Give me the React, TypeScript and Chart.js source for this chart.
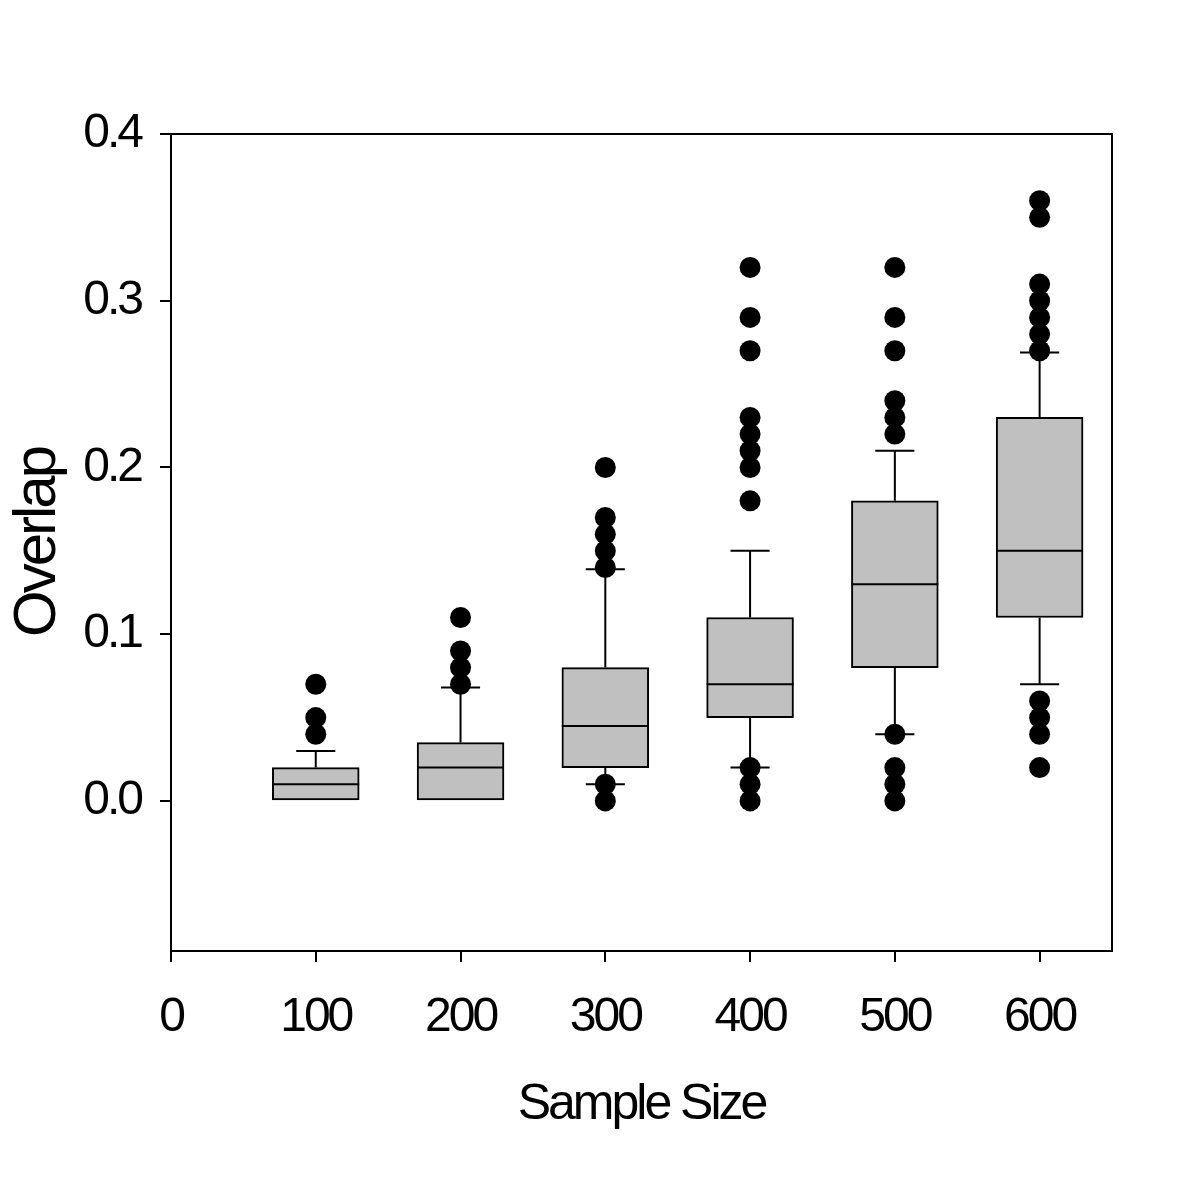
import React, { useEffect, useRef } from 'react';
import { Chart, registerables } from 'chart.js';

Chart.register(...registerables);

// ---- Data ----
const SAMPLE_SIZES = [100, 200, 300, 400, 500, 600];
const Q1 = [0.0, 0.0, 0.02, 0.05, 0.08, 0.11];
const MEDIAN = [0.01, 0.02, 0.045, 0.07, 0.13, 0.15];
const Q3 = [0.02, 0.035, 0.08, 0.11, 0.18, 0.23];
const WHISKER_LOW = [0.0, 0.0, 0.01, 0.02, 0.04, 0.07];
const WHISKER_HIGH = [0.03, 0.068, 0.139, 0.15, 0.21, 0.269];
const OUTLIERS_100 = [0.04, 0.05, 0.07];
const OUTLIERS_200 = [0.07, 0.08, 0.09, 0.11];
const OUTLIERS_300 = [0.0, 0.01, 0.14, 0.15, 0.16, 0.17, 0.2];
const OUTLIERS_400 = [0.0, 0.01, 0.02, 0.18, 0.2, 0.21, 0.22, 0.23, 0.27, 0.29, 0.32];
const OUTLIERS_500 = [0.0, 0.01, 0.02, 0.04, 0.22, 0.23, 0.24, 0.27, 0.29, 0.32];
const OUTLIERS_600 = [0.02, 0.04, 0.05, 0.06, 0.27, 0.28, 0.29, 0.3, 0.31, 0.35, 0.36];
const OUTLIERS = [OUTLIERS_100, OUTLIERS_200, OUTLIERS_300, OUTLIERS_400, OUTLIERS_500, OUTLIERS_600];

const X_TICKS = [0, 100, 200, 300, 400, 500, 600];
const Y_TICKS = [0.0, 0.1, 0.2, 0.3, 0.4];
const X_MIN = 0;
const X_MAX = 650;
const Y_MIN = -0.09;
const Y_MAX = 0.4;
const X_TITLE = 'Sample Size';
const Y_TITLE = 'Overlap';

// box geometry in data units (sample-size axis)
const BOX_HALF_WIDTH = 30;
const CAP_HALF_WIDTH = 13.5;

// ---- Layout ----
const W = 1200;
const H = 1197;
const AXIS_Y_WIDTH = 171;
const PAD_TOP = 134;
const PAD_RIGHT = 88;
const AXIS_X_HEIGHT = 246;
const FONT = "'Liberation Sans', Arial, Helvetica, sans-serif";

const boxExtras = {
  id: 'boxExtras',
  beforeDraw(chart: any) {
    const ctx = chart.ctx;
    if ('letterSpacing' in ctx) (ctx as any).letterSpacing = '-3px';
  },
  beforeDatasetsDraw(chart: any) {
    const { ctx, scales } = chart;
    const xs = scales.x;
    const ys = scales.y;
    ctx.save();
    ctx.strokeStyle = '#000';
    ctx.lineWidth = 2;
    SAMPLE_SIZES.forEach((s, i) => {
      const x = xs.getPixelForValue(s);
      const xl = xs.getPixelForValue(s - CAP_HALF_WIDTH);
      const xr = xs.getPixelForValue(s + CAP_HALF_WIDTH);
      if (WHISKER_HIGH[i] > Q3[i]) {
        const y0 = ys.getPixelForValue(Q3[i]);
        const y1 = ys.getPixelForValue(WHISKER_HIGH[i]);
        ctx.beginPath();
        ctx.moveTo(x, y0);
        ctx.lineTo(x, y1);
        ctx.moveTo(xl, y1);
        ctx.lineTo(xr, y1);
        ctx.stroke();
      }
      if (WHISKER_LOW[i] < Q1[i]) {
        const y0 = ys.getPixelForValue(Q1[i]);
        const y1 = ys.getPixelForValue(WHISKER_LOW[i]);
        ctx.beginPath();
        ctx.moveTo(x, y0);
        ctx.lineTo(x, y1);
        ctx.moveTo(xl, y1);
        ctx.lineTo(xr, y1);
        ctx.stroke();
      }
    });
    ctx.restore();
  },
  afterDatasetDraw(chart: any, args: any) {
    if (args.index !== 0) return;
    const { ctx, scales } = chart;
    const xs = scales.x;
    const ys = scales.y;
    ctx.save();
    ctx.strokeStyle = '#000';
    ctx.lineWidth = 2;
    SAMPLE_SIZES.forEach((s, i) => {
      const xl = xs.getPixelForValue(s - BOX_HALF_WIDTH);
      const xr = xs.getPixelForValue(s + BOX_HALF_WIDTH);
      const y = ys.getPixelForValue(MEDIAN[i]);
      ctx.beginPath();
      ctx.moveTo(xl, y);
      ctx.lineTo(xr, y);
      ctx.stroke();
    });
    ctx.restore();
  },
  afterDraw(chart: any) {
    const { ctx, chartArea } = chart;
    ctx.save();
    ctx.strokeStyle = '#000';
    ctx.lineWidth = 2;
    ctx.beginPath();
    ctx.moveTo(chartArea.left, chartArea.top);
    ctx.lineTo(chartArea.right, chartArea.top);
    ctx.lineTo(chartArea.right, chartArea.bottom);
    ctx.stroke();
    ctx.restore();
  },
};

export default function App() {
  const ref = useRef<HTMLCanvasElement | null>(null);

  useEffect(() => {
    if (!ref.current) return;
    const plotWidth = W - AXIS_Y_WIDTH - PAD_RIGHT;
    const barPx = ((2 * BOX_HALF_WIDTH) / (X_MAX - X_MIN)) * plotWidth;

    const boxData = SAMPLE_SIZES.map((s, i) => ({ x: s, y: [Q1[i], Q3[i]] }));
    const outlierData: { x: number; y: number }[] = [];
    SAMPLE_SIZES.forEach((s, i) => OUTLIERS[i].forEach((v) => outlierData.push({ x: s, y: v })));

    const chart = new Chart(ref.current, {
      type: 'bar',
      data: {
        datasets: [
          {
            type: 'bar',
            label: 'box',
            data: boxData as any,
            backgroundColor: '#c0c0c0',
            borderColor: '#000',
            borderWidth: 2,
            borderSkipped: false,
            barThickness: barPx,
            grouped: false,
          } as any,
          {
            type: 'scatter',
            label: 'outliers',
            data: outlierData,
            backgroundColor: '#000',
            borderColor: '#000',
            borderWidth: 0,
            pointRadius: 10.5,
          } as any,
        ],
      },
      plugins: [boxExtras],
      options: {
        responsive: false,
        animation: false,
        devicePixelRatio: 1,
        layout: { padding: { top: PAD_TOP, right: PAD_RIGHT, left: 0, bottom: 0 } },
        plugins: { legend: { display: false }, tooltip: { enabled: false } },
        scales: {
          x: {
            type: 'linear',
            min: X_MIN,
            max: X_MAX,
            offset: false,
            afterBuildTicks: (s: any) => {
              s.ticks = X_TICKS.map((v) => ({ value: v }));
            },
            afterFit: (s: any) => {
              s.height = AXIS_X_HEIGHT;
            },
            ticks: {
              autoSkip: false,
              maxRotation: 0,
              color: '#000',
              padding: 27,
              font: { family: FONT, size: 48 },
              callback: (v: any) => String(v),
            },
            grid: {
              offset: false,
              drawOnChartArea: false,
              drawTicks: true,
              tickLength: 11,
              tickWidth: 2,
              color: '#000',
              lineWidth: 2,
            },
            border: { display: true, color: '#000', width: 2 },
            title: {
              display: true,
              text: X_TITLE,
              color: '#000',
              font: { family: FONT, size: 50 },
              padding: { top: 0, bottom: 62 },
            },
          },
          y: {
            type: 'linear',
            min: Y_MIN,
            max: Y_MAX,
            afterBuildTicks: (s: any) => {
              s.ticks = Y_TICKS.map((v) => ({ value: v }));
            },
            afterFit: (s: any) => {
              s.width = AXIS_Y_WIDTH;
            },
            ticks: {
              color: '#000',
              padding: 19,
              font: { family: FONT, size: 48 },
              callback: (v: any) => Number(v).toFixed(1),
            },
            grid: {
              drawOnChartArea: false,
              drawTicks: true,
              tickLength: 11,
              tickWidth: 2,
              color: '#000',
              lineWidth: 2,
            },
            border: { display: true, color: '#000', width: 2 },
            title: {
              display: true,
              text: Y_TITLE,
              color: '#000',
              font: { family: FONT, size: 60 },
              padding: { top: 2, bottom: 0 },
            },
          },
        },
      } as any,
    });
    return () => chart.destroy();
  }, []);

  return (
    <div style={{ position: 'fixed', left: 0, top: 0, width: W, height: H, background: '#fff' }}>
      <canvas ref={ref} width={W} height={H} style={{ width: W, height: H, display: 'block' }} />
    </div>
  );
}
